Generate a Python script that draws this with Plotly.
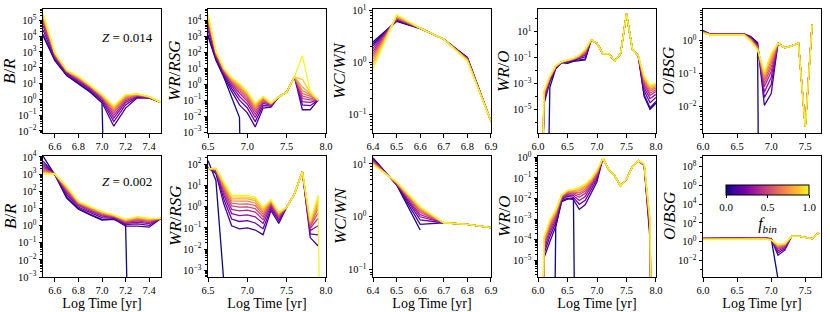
import math
import plotly.graph_objects as go
from plotly.colors import sample_colorscale

OFF = 1e-30  # a zero count: lies far below the log axis
fbin = [0.0, 0.1, 0.2, 0.3, 0.4, 0.5, 0.6, 0.7, 0.8, 0.9, 1.0]

# ---------------- Z = 0.014 ----------------
t_br14 = [6.5, 6.6, 6.7, 6.8, 6.9, 7.0, 7.1, 7.2, 7.3, 7.4, 7.5]
br14 = [
    [1.1e4, 280, 32, 9, 2.8, 0.6, OFF, None, None, None, None],
    [1.3e4, 320, 35, 10, 3.2, 0.63, 0.02, 0.28, 1.26, 1.2, 0.65],
    [2.5e4, 400, 42, 13, 3.9, 0.81, 0.039, 0.44, 1.43, 1.26, 0.65],
    [4.4e4, 480, 47, 15, 4.6, 1.0, 0.066, 0.62, 1.58, 1.3, 0.65],
    [6.8e4, 550, 51, 17, 5.2, 1.2, 0.1, 0.81, 1.72, 1.34, 0.65],
    [9.5e4, 620, 56, 19.5, 5.8, 1.35, 0.14, 1.0, 1.82, 1.37, 0.65],
    [1.3e5, 680, 59, 21, 6.3, 1.5, 0.18, 1.2, 1.93, 1.39, 0.65],
    [1.6e5, 740, 63, 23, 6.8, 1.6, 0.23, 1.4, 2.0, 1.42, 0.65],
    [2.0e5, 790, 66, 25, 7.2, 1.8, 0.29, 1.6, 2.1, 1.44, 0.65],
    [2.4e5, 850, 69, 27, 7.6, 1.9, 0.35, 1.8, 2.2, 1.47, 0.65],
    [2.8e5, 890, 71, 28, 7.9, 2.0, 0.4, 2.0, 2.24, 1.5, 0.65],
]

t_wrrsg14 = [6.5, 6.6, 6.7, 6.8, 6.9, 7.0, 7.1, 7.2, 7.3, 7.4, 7.5, 7.6, 7.7, 7.8, 7.9]
wrrsg14 = [
    [1000, 32, 2.8, 0.17, 0.008, OFF, None, None, None, None, None, None, None, None, None],
    [1260, 38, 3.2, 0.35, 0.05, 0.016, 0.0021, 0.032, 0.037, 0.16, 0.32, 2.8, 0.025, 0.025, 0.1],
    [2370, 49, 4.1, 0.55, 0.1, 0.032, 0.0045, 0.046, 0.042, 0.16, 0.32, 2.8, 0.05, 0.045, 0.1],
    [3980, 59, 5.0, 0.78, 0.17, 0.055, 0.0081, 0.063, 0.047, 0.16, 0.32, 2.8, 0.079, 0.072, 0.1],
    [5960, 69, 5.9, 1.02, 0.27, 0.085, 0.013, 0.079, 0.051, 0.16, 0.32, 2.8, 0.126, 0.105, 0.1],
    [8130, 78, 6.7, 1.26, 0.38, 0.12, 0.019, 0.095, 0.054, 0.16, 0.32, 2.8, 0.18, 0.14, 0.1],
    [1.06e4, 86, 7.4, 1.5, 0.5, 0.16, 0.026, 0.11, 0.057, 0.16, 0.32, 2.8, 0.26, 0.18, 0.1],
    [1.33e4, 93, 8.1, 1.78, 0.65, 0.2, 0.034, 0.13, 0.06, 0.16, 0.32, 2.8, 0.4, 0.22, 0.1],
    [1.62e4, 102, 8.8, 2.0, 0.79, 0.25, 0.044, 0.145, 0.062, 0.16, 0.32, 2.8, 0.66, 0.26, 0.1],
    [1.95e4, 109, 9.4, 2.3, 0.95, 0.3, 0.054, 0.16, 0.065, 0.16, 0.32, 2.8, 2.0, 0.31, 0.1],
    [2.24e4, 115, 10, 2.5, 1.12, 0.35, 0.063, 0.17, 0.066, 0.16, 0.32, 2.8, 62, 0.35, 0.1],
]

t_wcwn14 = [6.4, 6.5, 6.6, 6.7, 6.8, 6.9]
wcwn14 = [
    [2.5, 6.2, 4.5, 2.8, 1.25, 0.074],
    [2.3, 6.3, 4.6, 2.8, 1.23, 0.074],
    [2.1, 6.5, 4.6, 2.8, 1.21, 0.074],
    [1.86, 6.8, 4.6, 2.8, 1.19, 0.074],
    [1.66, 6.9, 4.6, 2.8, 1.17, 0.074],
    [1.48, 7.1, 4.6, 2.8, 1.16, 0.074],
    [1.32, 7.2, 4.6, 2.8, 1.14, 0.074],
    [1.17, 7.6, 4.6, 2.8, 1.12, 0.074],
    [1.02, 7.8, 4.6, 2.8, 1.1, 0.074],
    [0.89, 8.1, 4.6, 2.8, 1.09, 0.074],
    [0.76, 8.3, 4.6, 2.8, 1.07, 0.074],
]

t_wro14 = [6.0, 6.1, 6.2, 6.3, 6.4, 6.5, 6.6, 6.7, 6.8, 6.9, 7.0,
           7.1, 7.2, 7.3, 7.4, 7.5, 7.6, 7.7, 7.8, 7.9, 8.0]
wro14 = [
    [OFF, OFF, 5e-4, 0.014, 0.04, 0.035, 0.05, 0.06, 0.063, 2.2, 1.26, 0.19, 0.19, 0.054, 0.19, 230, 0.43, 0.13, 1.0e-4, 1.0e-5, 3e-5],
    [OFF, 2.5e-5, 1.3e-3, 0.014, 0.040, 0.040, 0.056, 0.063, 0.072, 2.2, 1.26, 0.19, 0.19, 0.054, 0.19, 230, 0.43, 0.13, 1.3e-4, 1.3e-5, 4.0e-5],
    [OFF, 4.3e-5, 1.7e-3, 0.016, 0.041, 0.044, 0.062, 0.078, 0.11, 2.2, 1.26, 0.19, 0.19, 0.054, 0.19, 230, 0.43, 0.13, 2.6e-4, 3.2e-5, 8.1e-5],
    [OFF, 6.5e-5, 2.0e-3, 0.017, 0.042, 0.048, 0.066, 0.091, 0.15, 2.2, 1.26, 0.19, 0.19, 0.054, 0.19, 230, 0.43, 0.13, 4.8e-4, 6.8e-5, 1.4e-4],
    [OFF, 9.1e-5, 2.3e-3, 0.018, 0.043, 0.051, 0.071, 0.10, 0.19, 2.2, 1.26, 0.19, 0.19, 0.054, 0.19, 230, 0.43, 0.13, 7.8e-4, 1.2e-4, 2.3e-4],
    [OFF, 1.2e-4, 2.6e-3, 0.0195, 0.044, 0.054, 0.074, 0.11, 0.23, 2.2, 1.26, 0.19, 0.19, 0.054, 0.19, 230, 0.43, 0.13, 1.1e-3, 1.8e-4, 3.2e-4],
    [OFF, 1.4e-4, 2.8e-3, 0.02, 0.044, 0.056, 0.076, 0.12, 0.27, 2.2, 1.26, 0.19, 0.19, 0.054, 0.19, 230, 0.43, 0.13, 1.5e-3, 2.6e-4, 4.4e-4],
    [OFF, 1.7e-4, 3.0e-3, 0.021, 0.045, 0.058, 0.079, 0.13, 0.31, 2.2, 1.26, 0.19, 0.19, 0.054, 0.19, 230, 0.43, 0.13, 2.0e-3, 3.6e-4, 5.6e-4],
    [OFF, 2.1e-4, 3.2e-3, 0.022, 0.046, 0.06, 0.081, 0.14, 0.35, 2.2, 1.26, 0.19, 0.19, 0.054, 0.19, 230, 0.43, 0.13, 2.5e-3, 4.8e-4, 7.1e-4],
    [OFF, 2.4e-4, 3.5e-3, 0.0224, 0.046, 0.062, 0.083, 0.15, 0.39, 2.2, 1.26, 0.19, 0.19, 0.054, 0.19, 230, 0.43, 0.13, 3.1e-3, 6.0e-4, 8.5e-4],
    [OFF, 2.7e-4, 3.6e-3, 0.023, 0.047, 0.063, 0.085, 0.155, 0.43, 2.2, 1.26, 0.19, 0.19, 0.054, 0.19, 230, 0.43, 0.13, 3.6e-3, 7.4e-4, 1.0e-3],
]

t_obsg14 = [6.0, 6.1, 6.2, 6.3, 6.4, 6.5, 6.6, 6.7, 6.8, 6.9, 7.0, 7.1, 7.2, 7.3, 7.4, 7.5, 7.6]
obsg14 = [
    [2.0, 1.58, 1.58, 1.58, 1.58, 1.58, 1.58, 1.32, 0.87, OFF, None, None, None, None, None, None, None],
    [1.95, 1.57, 1.57, 1.57, 1.57, 1.57, 1.57, 1.27, 0.83, 0.011, 0.025, 0.83, 0.6, 0.69, 0.83, 0.0025, 3.0],
    [1.9, 1.56, 1.56, 1.56, 1.56, 1.56, 1.56, 1.23, 0.76, 0.019, 0.047, 0.83, 0.6, 0.69, 0.83, 0.0025, 3.0],
    [1.9, 1.55, 1.55, 1.55, 1.55, 1.55, 1.55, 1.19, 0.69, 0.028, 0.078, 0.83, 0.6, 0.69, 0.83, 0.0025, 3.0],
    [1.86, 1.54, 1.54, 1.54, 1.54, 1.54, 1.54, 1.15, 0.66, 0.04, 0.115, 0.83, 0.6, 0.69, 0.83, 0.0025, 3.0],
    [1.82, 1.53, 1.53, 1.53, 1.53, 1.53, 1.53, 1.11, 0.63, 0.051, 0.155, 0.83, 0.6, 0.69, 0.83, 0.0025, 3.0],
    [1.78, 1.52, 1.52, 1.52, 1.52, 1.52, 1.52, 1.07, 0.6, 0.063, 0.2, 0.83, 0.6, 0.69, 0.83, 0.0025, 3.0],
    [1.74, 1.51, 1.51, 1.51, 1.51, 1.51, 1.51, 1.03, 0.58, 0.076, 0.25, 0.83, 0.6, 0.69, 0.83, 0.0025, 3.0],
    [1.74, 1.5, 1.5, 1.5, 1.5, 1.5, 1.5, 1.0, 0.55, 0.089, 0.31, 0.83, 0.6, 0.69, 0.83, 0.0025, 3.0],
    [1.7, 1.49, 1.49, 1.49, 1.49, 1.49, 1.49, 0.97, 0.54, 0.10, 0.36, 0.83, 0.6, 0.69, 0.83, 0.0025, 3.0],
    [1.66, 1.48, 1.48, 1.48, 1.48, 1.48, 1.48, 0.93, 0.52, 0.115, 0.42, 0.83, 0.6, 0.69, 0.83, 0.0025, 3.0],
]

# ---------------- Z = 0.002 ----------------
t_br02 = [6.5, 6.6, 6.7, 6.8, 6.9, 7.0, 7.1, 7.2, 7.3, 7.4, 7.5]
br02 = [
    [1.1e4, 900, 40, 8.9, 4.1, 2.1, 2.3, 1.2, OFF, None, None],
    [5600, 950, 45, 10, 4.5, 2.3, 2.4, 0.93, 0.93, 0.8, 2.6],
    [4000, 960, 62, 12, 5.6, 2.9, 2.7, 1.15, 1.23, 1.02, 2.6],
    [3000, 970, 79, 14.5, 6.8, 3.5, 2.95, 1.35, 1.55, 1.3, 2.6],
    [2400, 980, 98, 16.5, 7.8, 4.0, 3.2, 1.5, 1.86, 1.5, 2.6],
    [2000, 990, 115, 18, 8.7, 4.5, 3.4, 1.66, 2.1, 1.74, 2.6],
    [1700, 1000, 130, 20, 9.5, 4.9, 3.55, 1.8, 2.4, 1.9, 2.6],
    [1450, 1000, 150, 21, 10.5, 5.4, 3.7, 1.95, 2.6, 2.1, 2.6],
    [1260, 1000, 160, 23, 11.2, 5.8, 3.8, 2.1, 2.9, 2.3, 2.6],
    [1120, 1000, 180, 24, 12, 6.2, 4.0, 2.2, 3.1, 2.45, 2.6],
    [1000, 1000, 190, 25, 12.6, 6.5, 4.1, 2.3, 3.3, 2.6, 2.6],
]

t_wrrsg02 = [6.5, 6.6, 6.7, 6.8, 6.9, 7.0, 7.1, 7.2, 7.3, 7.4, 7.5, 7.6, 7.7, 7.8, 7.9, 8.0]
wrrsg02 = [
    [145, 17, 3e-4, None, None, None, None, None, None, None, None, None, None, None, None, None],
    [66, 36, 1.35, 0.126, 0.089, 0.1, 0.079, 0.048, 0.66, 0.16, 0.93, 4.0, 44, 0.035, 0.014, None],
    [65, 41, 2.3, 0.26, 0.2, 0.22, 0.17, 0.091, 0.85, 0.21, 0.93, 4.0, 44, 0.052, 0.047, None],
    [64, 46, 3.5, 0.47, 0.38, 0.41, 0.33, 0.16, 1.05, 0.26, 0.93, 4.0, 44, 0.074, 0.126, None],
    [63, 49, 4.9, 0.74, 0.63, 0.68, 0.55, 0.24, 1.23, 0.32, 0.93, 4.0, 44, 0.095, 0.28, None],
    [63, 52, 6.3, 1.07, 0.95, 0.98, 0.81, 0.33, 1.4, 0.35, 0.93, 4.0, 44, 0.115, 0.5, None],
    [62, 55, 7.8, 1.45, 1.3, 1.35, 1.12, 0.43, 1.55, 0.4, 0.93, 4.0, 44, 0.135, 0.81, None],
    [62, 58, 9.3, 1.86, 1.8, 1.8, 1.48, 0.55, 1.7, 0.44, 0.93, 4.0, 44, 0.16, 1.26, None],
    [61, 59, 11, 2.3, 2.3, 2.3, 1.9, 0.68, 1.84, 0.48, 0.93, 4.0, 44, 0.18, 1.86, None],
    [61, 62, 13, 2.9, 2.8, 2.8, 2.3, 0.81, 1.97, 0.51, 0.93, 4.0, 44, 0.2, 2.6, None],
    [60, 63, 14.5, 3.4, 3.4, 3.4, 2.8, 0.93, 2.1, 0.55, 0.93, 4.0, 44, 0.22, 3.4, OFF],
]

t_wcwn02 = [6.4, 6.5, 6.6, 6.7, 6.8, 6.9]
wcwn02 = [
    [13, 4.0, 0.56, None, None, None],
    [12.6, 4.05, 0.72, 0.77, 0.72, 0.62],
    [12.2, 4.1, 0.87, 0.77, 0.72, 0.62],
    [11.8, 4.15, 1.0, 0.77, 0.72, 0.62],
    [11.4, 4.2, 1.1, 0.77, 0.72, 0.62],
    [11, 4.3, 1.2, 0.77, 0.72, 0.62],
    [10.7, 4.35, 1.29, 0.77, 0.72, 0.62],
    [10.4, 4.4, 1.38, 0.77, 0.72, 0.62],
    [10.1, 4.5, 1.45, 0.77, 0.72, 0.62],
    [9.8, 4.55, 1.51, 0.77, 0.72, 0.62],
    [9.6, 4.6, 1.55, 0.77, 0.72, 0.62],
]

t_wro02 = [6.0, 6.1, 6.2, 6.3, 6.4, 6.5, 6.6, 6.7, 6.8, 6.9, 7.0,
           7.1, 7.2, 7.3, 7.4, 7.5, 7.6, 7.7, 7.8, 7.9, 8.0]
wro02 = [
    [OFF, OFF, OFF, 4.5e-4, 0.007, 0.0093, 0.01, OFF, None, None, None, None, None, None, None, None, None, None, None, None, None],
    [OFF, 1.3e-5, 7.9e-5, 4.5e-4, 0.0079, 0.0105, 0.0089, 0.003, 0.005, 0.018, 0.066, 0.9, 0.25, 0.126, 0.041, 0.087, 0.35, 0.69, 0.4, 1.0e-4, OFF],
    [OFF, 2.1e-5, 1.4e-4, 6.8e-4, 0.0091, 0.0126, 0.0115, 0.0052, 0.0083, 0.026, 0.088, 0.9, 0.25, 0.126, 0.041, 0.087, 0.35, 0.69, 0.41, 1.7e-4, OFF],
    [OFF, 3.2e-5, 2.1e-4, 9.3e-4, 0.01, 0.0148, 0.014, 0.0081, 0.0126, 0.035, 0.11, 0.9, 0.25, 0.126, 0.041, 0.087, 0.35, 0.69, 0.42, 2.5e-4, OFF],
    [OFF, 4.6e-5, 3.0e-4, 1.2e-3, 0.011, 0.017, 0.0166, 0.0115, 0.0178, 0.045, 0.135, 0.9, 0.25, 0.126, 0.041, 0.087, 0.35, 0.69, 0.43, 3.5e-4, OFF],
    [OFF, 5.9e-5, 4.0e-4, 1.5e-3, 0.012, 0.0186, 0.019, 0.015, 0.023, 0.054, 0.155, 0.9, 0.25, 0.126, 0.041, 0.087, 0.35, 0.69, 0.44, 4.5e-4, OFF],
    [OFF, 7.2e-5, 4.9e-4, 1.7e-3, 0.013, 0.02, 0.021, 0.0186, 0.028, 0.062, 0.17, 0.9, 0.25, 0.126, 0.041, 0.087, 0.35, 0.69, 0.45, 5.5e-4, OFF],
    [OFF, 8.7e-5, 6.0e-4, 2.0e-3, 0.0135, 0.0214, 0.023, 0.023, 0.034, 0.071, 0.195, 0.9, 0.25, 0.126, 0.041, 0.087, 0.35, 0.69, 0.46, 6.6e-4, OFF],
    [OFF, 1.05e-4, 7.1e-4, 2.3e-3, 0.014, 0.023, 0.025, 0.027, 0.04, 0.079, 0.21, 0.9, 0.25, 0.126, 0.041, 0.087, 0.35, 0.69, 0.47, 7.8e-4, OFF],
    [OFF, 1.2e-4, 8.3e-4, 2.6e-3, 0.0148, 0.024, 0.027, 0.032, 0.046, 0.087, 0.23, 0.9, 0.25, 0.126, 0.041, 0.087, 0.35, 0.69, 0.48, 8.9e-4, OFF],
    [OFF, 1.35e-4, 9.3e-4, 2.8e-3, 0.015, 0.025, 0.028, 0.035, 0.051, 0.095, 0.245, 0.9, 0.25, 0.126, 0.041, 0.087, 0.35, 0.69, 0.5, 1.0e-3, OFF],
]

t_obsg02 = [6.0, 6.1, 6.2, 6.3, 6.4, 6.5, 6.6, 6.7, 6.8, 6.9, 7.0, 7.1, 7.2, 7.3, 7.4, 7.5, 7.6, 7.7]
obsg02 = [
    [2.2, 2.2, 2.2, 2.2, 2.2, 2.2, 2.2, 2.2, 2.6, 2.6, 2.2, 1e-4, None, None, None, None, None, None],
    [2.15, 2.15, 2.15, 2.15, 2.15, 2.15, 2.15, 2.15, 2.5, 2.5, 2.0, 0.035, 0.12, 3.7, 3.7, 3.0, 2.1, 8.5],
    [2.1, 2.1, 2.1, 2.1, 2.1, 2.1, 2.1, 2.1, 2.4, 2.4, 1.9, 0.063, 0.17, 3.7, 3.7, 3.0, 2.1, 8.5],
    [2.05, 2.05, 2.05, 2.05, 2.05, 2.05, 2.05, 2.05, 2.35, 2.35, 1.85, 0.1, 0.23, 3.7, 3.7, 3.0, 2.1, 8.5],
    [2.0, 2.0, 2.0, 2.0, 2.0, 2.0, 2.0, 2.0, 2.3, 2.3, 1.8, 0.15, 0.29, 3.7, 3.7, 3.0, 2.1, 8.5],
    [1.95, 1.95, 1.95, 1.95, 1.95, 1.95, 1.95, 1.95, 2.2, 2.2, 1.75, 0.2, 0.35, 3.7, 3.7, 3.0, 2.1, 8.5],
    [1.9, 1.9, 1.9, 1.9, 1.9, 1.9, 1.9, 1.9, 2.1, 2.1, 1.7, 0.26, 0.41, 3.7, 3.7, 3.0, 2.1, 8.5],
    [1.8, 1.8, 1.8, 1.8, 1.8, 1.8, 1.8, 1.8, 2.0, 2.0, 1.6, 0.32, 0.47, 3.7, 3.7, 3.0, 2.1, 8.5],
    [1.75, 1.75, 1.75, 1.75, 1.75, 1.75, 1.75, 1.75, 1.95, 1.95, 1.55, 0.38, 0.52, 3.7, 3.7, 3.0, 2.1, 8.5],
    [1.7, 1.7, 1.7, 1.7, 1.7, 1.7, 1.7, 1.7, 1.9, 1.9, 1.5, 0.45, 0.58, 3.7, 3.7, 3.0, 2.1, 8.5],
    [1.6, 1.6, 1.6, 1.6, 1.6, 1.6, 1.6, 1.6, 1.8, 1.8, 1.4, 0.51, 0.63, 3.7, 3.7, 3.0, 2.1, 8.5],
]

# ---------------- panel settings ----------------
ylabels = ["<i>B</i>/<i>R</i>", "<i>WR</i>/<i>RSG</i>", "<i>WC</i>/<i>WN</i>",
           "<i>WR</i>/<i>O</i>", "<i>O</i>/<i>BSG</i>"]
xlabel = "Log Time [yr]"
ztexts = ["<i>Z</i> = 0.014", "<i>Z</i> = 0.002"]

panels = [
    (t_br14, br14, [6.5, 7.5], [6.6, 6.8, 7.0, 7.2, 7.4], [-2.13, 5.72], [-2, -1, 0, 1, 2, 3, 4, 5], None),
    (t_wrrsg14, wrrsg14, [6.5, 8.0], [6.5, 7.0, 7.5, 8.0], [-3.06, 4.71], [-3, -2, -1, 0, 1, 2, 3, 4], None),
    (t_wcwn14, wcwn14, [6.4, 6.9], [6.4, 6.5, 6.6, 6.7, 6.8, 6.9], [-1.36, 1.03], [-1, 0, 1], None),
    (t_wro14, wro14, [6.0, 8.0], [6.0, 6.5, 7.0, 7.5, 8.0], [-6.83, 2.73], [-5, -3, -1, 1], [-6, -4, -2, 0, 2]),
    (t_obsg14, obsg14, [6.0, 7.73], [6.0, 6.5, 7.0, 7.5], [-2.79, 0.95], [-2, -1, 0], None),
    (t_br02, br02, [6.5, 7.5], [6.6, 6.8, 7.0, 7.2, 7.4], [-3.0, 4.05], [-3, -2, -1, 0, 1, 2, 3, 4], None),
    (t_wrrsg02, wrrsg02, [6.5, 8.0], [6.5, 7.0, 7.5, 8.0], [-3.31, 2.38], [-3, -2, -1, 0, 1, 2], None),
    (t_wcwn02, wcwn02, [6.4, 6.9], [6.4, 6.5, 6.6, 6.7, 6.8, 6.9], [-1.14, 1.15], [-1, 0, 1], None),
    (t_wro02, wro02, [6.0, 8.0], [6.0, 6.5, 7.0, 7.5, 8.0], [-5.81, 0.065], [-5, -4, -3, -2, -1, 0], None),
    (t_obsg02, obsg02, [6.0, 7.73], [6.0, 6.5, 7.0, 7.5], [-3.79, 9.14], [-2, 0, 2, 4, 6, 8], [-3, -1, 1, 3, 5, 7, 9]),
]

SERIF = "Liberation Serif, DejaVu Serif, serif"
W, H = 830, 312
colors = sample_colorscale("Plasma", fbin)
ytitle_x = [10, 175, 340, 504, 669]   # pixel centre of each column's y label
ytitle_y = [71, 216]                  # pixel centre of each row's y label

fig = go.Figure()
layout = {}
annotations = []


def pow_label(e):
    s = str(e).replace("-", "\u2212")
    return "10<sup>%s</sup>" % s


for i, (t, rows, xr, xt, yr, exps, mdec) in enumerate(panels):
    n = i + 1
    r, c = divmod(i, 5)
    xa = "x" if n == 1 else "x%d" % n
    ya = "y" if n == 1 else "y%d" % n
    for k, row in enumerate(rows):
        fig.add_trace(go.Scatter(x=t, y=row, mode="lines", xaxis=xa, yaxis=ya,
                                 line=dict(color=colors[k], width=1.3),
                                 showlegend=False, hoverinfo="skip"))
    x0 = (43 + 165 * c) / W
    x1 = (161 + 165 * c) / W
    if r == 0:
        y0, y1 = 1 - 133 / H, 1 - 9 / H
    else:
        y0, y1 = 1 - 277 / H, 1 - 156 / H
    if mdec is None:
        minor = []
        for d in range(math.floor(yr[0]) - 1, math.ceil(yr[1]) + 1):
            for m in range(2, 10):
                v = m * 10 ** d
                if yr[0] <= math.log10(v) <= yr[1]:
                    minor.append(v)
    else:
        minor = [10.0 ** d for d in mdec if yr[0] <= d <= yr[1]]
    pad = (xr[1] - xr[0]) * 0.0005
    xkey = "xaxis" if n == 1 else "xaxis%d" % n
    ykey = "yaxis" if n == 1 else "yaxis%d" % n
    layout[xkey] = dict(
        domain=[x0, x1], anchor=ya, range=[xr[0] - pad, xr[1] + pad],
        tickvals=xt, ticktext=["%.1f" % v for v in xt],
        showline=True, linecolor="black", linewidth=1, mirror=True,
        ticks="outside", ticklen=3.5, tickwidth=1, tickcolor="black",
        showgrid=False, zeroline=False, automargin=False,
        tickfont=dict(family=SERIF, size=10.5, color="black"),
        title=dict(text=xlabel if r == 1 else "", font=dict(family=SERIF, size=14, color="black"), standoff=2),
    )
    layout[ykey] = dict(
        domain=[y0, y1], anchor=xa, type="log", range=yr,
        tickvals=[10.0 ** e for e in exps], ticktext=[pow_label(e) for e in exps],
        showline=True, linecolor="black", linewidth=1, mirror=True,
        ticks="outside", ticklen=3.5, tickwidth=1, tickcolor="black",
        minor=dict(tickvals=minor, ticks="outside", ticklen=2, tickwidth=0.8, tickcolor="black", showgrid=False),
        showgrid=False, zeroline=False, automargin=False,
        tickfont=dict(family=SERIF, size=10.5, color="black"),
    )
    annotations.append(dict(text=ylabels[c], textangle=-90,
                            x=ytitle_x[c] / W, y=1 - ytitle_y[r] / H,
                            xref="paper", yref="paper", xanchor="center", yanchor="middle",
                            showarrow=False, font=dict(family=SERIF, size=17, color="black")))

# colour bar for the binary fraction
fig.add_trace(go.Scatter(
    x=[None], y=[None], mode="markers", xaxis="x10", yaxis="y10",
    showlegend=False, hoverinfo="skip",
    marker=dict(color=[0.0], colorscale="Plasma", cmin=0, cmax=1, showscale=True,
                colorbar=dict(orientation="h", x=767.5 / W, xanchor="center",
                              y=1 - 185 / H, yanchor="top", len=83 / W, lenmode="fraction",
                              thickness=10, thicknessmode="pixels",
                              outlinewidth=1, outlinecolor="black", xpad=0, ypad=0,
                              tickvals=[0, 0.5, 1.0], ticktext=["0.0", "0.5", "1.0"],
                              ticks="outside", ticklen=3, tickcolor="black",
                              tickfont=dict(family=SERIF, size=11, color="black"),
                              title=dict(text="<i>f</i><sub><i>bin</i></sub>", side="bottom",
                                         font=dict(family=SERIF, size=16, color="black")))),
))

annotations += [
    dict(text=ztexts[0], x=127 / W, y=1 - 37 / H, xref="paper", yref="paper",
         xanchor="center", yanchor="middle",
         showarrow=False, font=dict(family=SERIF, size=13, color="black")),
    dict(text=ztexts[1], x=127 / W, y=1 - 181 / H, xref="paper", yref="paper",
         xanchor="center", yanchor="middle",
         showarrow=False, font=dict(family=SERIF, size=13, color="black")),
]

fig.update_layout(width=W, height=H, margin=dict(l=0, r=0, t=0, b=0),
                  paper_bgcolor="white", plot_bgcolor="white",
                  annotations=annotations, **layout)
fig.write_html("out.html", config={"displayModeBar": False},
               post_script="document.body.style.margin='0';document.documentElement.style.margin='0';")
